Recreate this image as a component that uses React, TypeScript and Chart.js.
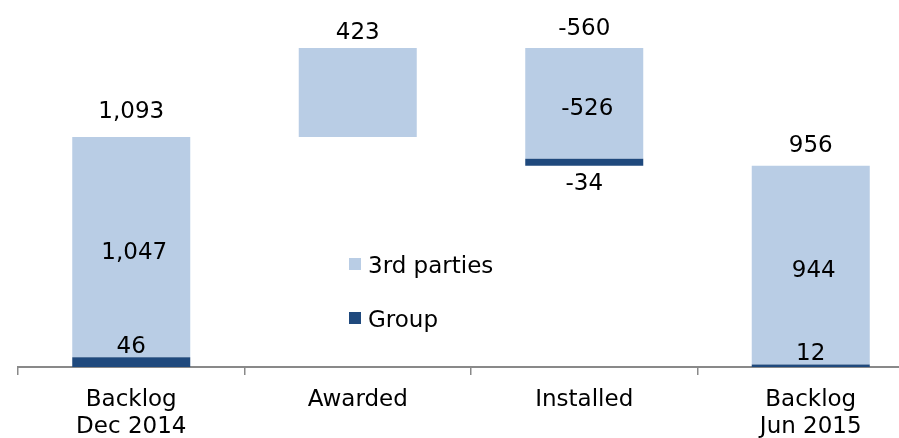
import React, { useEffect, useRef } from 'react';
import { Chart, registerables } from 'chart.js';

Chart.register(...registerables);

// ---- data ----
const categories: string[][] = [['Backlog', 'Dec 2014'], ['Awarded'], ['Installed'], ['Backlog', 'Jun 2015']];
const stepKinds: string[] = ['total', 'delta', 'delta', 'total'];
const groupValues: number[] = [46, 0, -34, 12];
const thirdPartyValues: number[] = [1047, 423, -526, 944];
const stepTotals: number[] = [1093, 423, -560, 956];
const seriesNames: string[] = ['3rd parties', 'Group'];

// ---- style ----
const LIGHT = '#B9CDE5';
const DARK = '#1F497D';
const AXIS = '#898989';
const FONT = '"DejaVu Sans", Verdana, sans-serif';
const FONT_SIZE = 23;
const totalLabelGap = [19, 9, 13, 14];

const fmt = (v: number) => v.toLocaleString('en-US');

// floating ranges built from the values
function buildRanges() {
  const group: ([number, number] | null)[] = [];
  const third: ([number, number] | null)[] = [];
  let running = 0;
  for (let i = 0; i < categories.length; i++) {
    const g = groupValues[i];
    const t = thirdPartyValues[i];
    if (stepKinds[i] === 'total') {
      group.push(g ? [0, g] : null);
      third.push([g, g + t]);
      running = g + t;
    } else if (g + t >= 0) {
      group.push(g ? [running, running + g] : null);
      third.push([running + g, running + g + t]);
      running += g + t;
    } else {
      third.push([running + t, running]);
      group.push(g ? [running + t + g, running + t] : null);
      running += t + g;
    }
  }
  return { group, third };
}

const ranges = buildRanges();

const labelPlugin = {
  id: 'waterfallLabels',
  afterDatasetsDraw(chart: any) {
    const { ctx, scales } = chart;
    const xs = scales.x;
    const ys = scales.y;
    ctx.save();
    ctx.font = `${FONT_SIZE}px ${FONT}`;
    ctx.fillStyle = '#000';
    ctx.textAlign = 'center';
    ctx.textBaseline = 'alphabetic';
    for (let i = 0; i < categories.length; i++) {
      const x = xs.getPixelForValue(i);
      const g = ranges.group[i];
      const t = ranges.third[i];
      const hi = Math.max(t ? t[1] : 0, g ? g[1] : 0);
      const topPx = ys.getPixelForValue(hi);
      // total label
      ctx.fillText(fmt(stepTotals[i]), x, topPx - totalLabelGap[i]);
      // inner labels only for stacked steps
      if (g) {
        const tc = (ys.getPixelForValue(t![0]) + ys.getPixelForValue(t![1])) / 2;
        ctx.fillText(fmt(thirdPartyValues[i]), x + 3, tc + 11.5);
        if (groupValues[i] >= 0) {
          ctx.fillText(fmt(groupValues[i]), x, ys.getPixelForValue(g[1]) - 4);
        } else {
          ctx.fillText(fmt(groupValues[i]), x, ys.getPixelForValue(g[0]) + 24);
        }
      }
    }
    // legend
    const items = [
      { label: seriesNames[0], color: LIGHT, cy: 264 },
      { label: seriesNames[1], color: DARK, cy: 318 },
    ];
    ctx.textAlign = 'left';
    for (const it of items) {
      ctx.fillStyle = it.color;
      ctx.fillRect(349, it.cy - 6, 12, 12);
      ctx.fillStyle = '#000';
      ctx.fillText(it.label, 368, it.cy + 8.5);
    }
    ctx.restore();
  },
};

export default function App() {
  const ref = useRef<HTMLCanvasElement | null>(null);
  useEffect(() => {
    if (!ref.current) return;
    const chart = new Chart(ref.current, {
      type: 'bar',
      data: {
        labels: categories,
        datasets: [
          {
            label: seriesNames[1],
            data: ranges.group as any,
            backgroundColor: DARK,
            grouped: false,
            barPercentage: 0.521,
            categoryPercentage: 1,
          } as any,
          {
            label: seriesNames[0],
            data: ranges.third as any,
            backgroundColor: LIGHT,
            grouped: false,
            barPercentage: 0.521,
            categoryPercentage: 1,
          } as any,
        ],
      },
      options: {
        animation: false,
        responsive: false,
        layout: { padding: { left: 18, right: 0, top: 0, bottom: 0 } },
        plugins: { legend: { display: false }, tooltip: { enabled: false }, title: { display: false } },
        scales: {
          x: {
            offset: true,
            grid: { offset: true, drawOnChartArea: false, drawTicks: true, tickLength: 8, color: AXIS, lineWidth: 1.5 },
            border: { display: true, color: AXIS, width: 2 },
            ticks: { color: '#000', font: { family: FONT, size: FONT_SIZE, lineHeight: 27 / 23 }, padding: 12, maxRotation: 0, autoSkip: false },
            afterFit: (scale: any) => { scale.height = 71; },
          },
          y: { display: false, min: 0, max: 1744 },
        },
      },
      plugins: [labelPlugin],
    });
    return () => chart.destroy();
  }, []);
  return (
    <div style={{ position: 'absolute', left: 0, top: 0, width: 899, height: 438, overflow: 'hidden', background: '#fff' }}>
      <canvas ref={ref} width={924} height={438} style={{ width: 924, height: 438, display: 'block' }} />
    </div>
  );
}
